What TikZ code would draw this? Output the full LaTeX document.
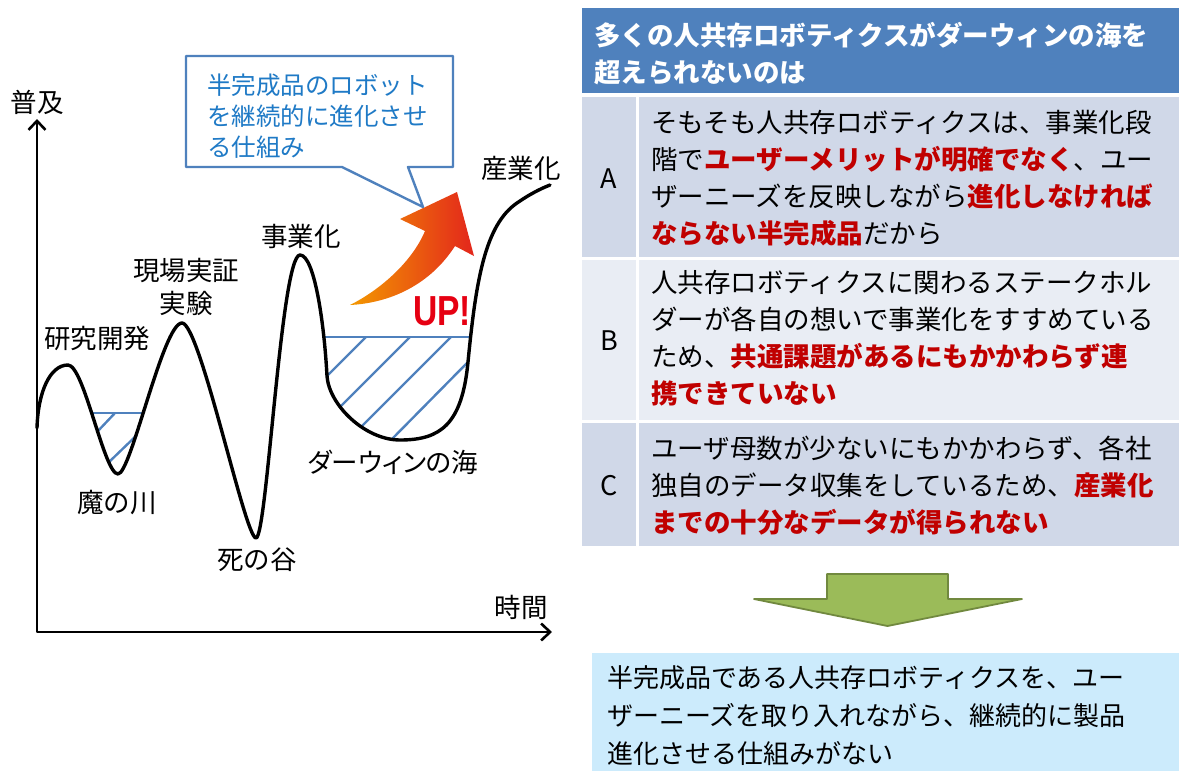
\documentclass[tikz,border=0pt]{standalone}
\usepackage{fontspec}
\setmainfont{Noto Sans CJK JP}
\newfontfamily\jpprop[RawFeature=+palt]{Noto Sans CJK JP}
\newfontfamily\upfont{Liberation Sans}
\usetikzlibrary{arrows.meta}

\definecolor{hdrblue}{HTML}{4F81BD}
\definecolor{rowdark}{HTML}{D0D8E8}
\definecolor{rowlight}{HTML}{E9EDF4}
\definecolor{alertred}{HTML}{C00000}
\definecolor{notetext}{HTML}{1F7AC6}
\definecolor{resultbg}{HTML}{CCEBFC}
\definecolor{leafgreen}{HTML}{9BBB59}
\definecolor{leafedge}{HTML}{71893F}
\definecolor{arrorange}{HTML}{F39800}
\definecolor{arrred}{HTML}{E3261C}
\definecolor{upred}{HTML}{E60012}

\newcommand{\redbf}[1]{{\color{alertred}\bfseries #1}}

\begin{document}
\begin{tikzpicture}[x=1pt,y=-1pt,line join=round]
\tikzset{
  axisline/.style={line width=2.6pt,{Straight Barb[length=9pt,width=17pt]}-{Straight Barb[length=9pt,width=17pt]}},
  curveline/.style={line width=3.4pt,black,line cap=round},
  hatchline/.style={line width=2.4pt,hdrblue},
  lbl/.style={inner sep=0pt,font=\fontsize{26.5}{30}\selectfont},
  celltext/.style={inner sep=0pt,anchor=west,align=left,font=\fontsize{26.5}{37}\selectfont},
  rowlabel/.style={inner sep=0pt,font=\fontsize{27}{30}\selectfont},
  callout/.style={draw=hdrblue,line width=2.4pt,fill=white},
  downarrow/.style={draw=leafedge,line width=1.8pt,fill=leafgreen}
}
\useasboundingbox (0,0) rectangle (1179,771);

% ---------- chart: axes ----------
\coordinate (yTop) at (37,119);
\coordinate (orig) at (37,632);
\coordinate (xEnd) at (552,632);
\draw[axisline] (yTop) -- (orig) -- (xEnd);

% ---------- water surfaces and hatching ----------
\draw[hatchline] (92,413) -- (144,413);
\draw[hatchline] (97,432) -- (115,413);
\draw[hatchline] (108,463) -- (137,435);

\draw[hatchline] (324,337) -- (471,337);
\draw[hatchline] (327,376) -- (366,337);
\draw[hatchline] (340,407) -- (410,337);
\draw[hatchline] (361,427) -- (451,337);
\draw[hatchline] (392,439) -- (468,362);

% ---------- the development curve ----------
\draw[curveline] (37,428) .. controls (38,392) and (50,365) .. (68,365)
  .. controls (84,365) and (104,474) .. (118,474)
  .. controls (131,474) and (163,323) .. (182,323)
  .. controls (200,323) and (245,538) .. (256,538)
  .. controls (267,538) and (281,255) .. (300,255)
  .. controls (314,255) and (324,320) .. (327,376)
  .. controls (329,405) and (365,440) .. (400,440)
  .. controls (440,440) and (462,425) .. (468,362)
  .. controls (476,280) and (485,225) .. (517,203)
  .. controls (530,194) and (540,189) .. (550,185);

% ---------- chart labels ----------
\node[lbl] (popLbl) at (37,102) {普及};
\node[lbl] (timeLbl) at (521,607) {時間};
\node[lbl] (rdLbl) at (97,338) {研究開発};
\node[lbl,align=center,font=\fontsize{26.5}{33}\selectfont] (fieldLbl) at (186,286.5) {現場実証\\実験};
\node[lbl] (bizLbl) at (301,236) {事業化};
\node[lbl] (indLbl) at (521,168) {産業化};
\node[lbl] (devilLbl) at (117,503) {魔の川};
\node[lbl] (deathLbl) at (257,560) {死の谷};
\node[lbl,font=\jpprop\fontsize{26.5}{30}\selectfont] (seaLbl) at (393,462) {ダーウィンの海};

% ---------- rising arrow ----------
\path[left color=arrorange,right color=arrred]
  (350,305) .. controls (380,290) and (412,262) .. (425,231)
  -- (400,219) -- (457,192) -- (474,256) -- (455,246)
  .. controls (430,285) and (390,303) .. cycle;
\node[inner sep=0pt,text=upred,font=\upfont\bfseries\fontsize{42}{42}\selectfont] (upLbl) at (442,311) {\scalebox{0.8}[1]{UP!}};

% ---------- speech callout ----------
\draw[callout] (186,56) -- (453,56) -- (453,167) -- (408,167) -- (423,207)
  -- (342,167) -- (186,167) -- cycle;
\node[inner sep=0pt,anchor=west,align=left,text=notetext,font=\fontsize{24.5}{31}\selectfont]
  (noteTxt) at (207,116) {半完成品のロボット\\を継続的に進化させ\\る仕組み};

% ---------- table ----------
\fill[hdrblue] (582,8) rectangle (1179,93);
\node[celltext,text=white,font=\bfseries\fontsize{26.5}{37}\selectfont] (hdrTxt) at (594,53.5)
  {多くの人共存ロボティクスがダーウィンの海を\\超えられないのは};

\fill[rowdark] (582,97) rectangle (636,257);
\fill[rowdark] (639,97) rectangle (1179,257);
\fill[rowlight] (582,260) rectangle (636,420);
\fill[rowlight] (639,260) rectangle (1179,420);
\fill[rowdark] (582,423) rectangle (636,546);
\fill[rowdark] (639,423) rectangle (1179,546);

\node[rowlabel] (labA) at (609,179) {A};
\node[rowlabel] (labB) at (609,341) {B};
\node[rowlabel] (labC) at (609,486) {C};

\node[celltext] (txtA) at (651,178.5)
  {そもそも人共存ロボティクスは、事業化段\\
   階で\redbf{ユーザーメリットが明確でなく}、ユー\\
   ザーニーズを反映しながら\redbf{進化しなければ}\\
   \redbf{ならない半完成品}だから};
\node[celltext] (txtB) at (651,338)
  {人共存ロボティクスに関わるステークホル\\
   ダーが各自の想いで事業化をすすめている\\
   ため、\redbf{共通課題があるにもかかわらず連}\\
   \redbf{携できていない}};
\node[celltext] (txtC) at (651,485.5)
  {ユーザ母数が少ないにもかかわらず、各社\\
   独自のデータ収集をしているため、\redbf{産業化}\\
   \redbf{までの十分なデータが得られない}};

% ---------- conclusion ----------
\draw[downarrow] (827,574) -- (948,574) -- (948,599) -- (1022,599) -- (887.5,626)
  -- (754,599) -- (827,599) -- cycle;
\fill[resultbg] (592,653) rectangle (1179,771);
\node[celltext,font=\fontsize{26}{38}\selectfont] (resultTxt) at (607,716)
  {半完成品である人共存ロボティクスを、ユー\\
   ザーニーズを取り入れながら、継続的に製品\\
   進化させる仕組みがない};
\end{tikzpicture}
\end{document}
